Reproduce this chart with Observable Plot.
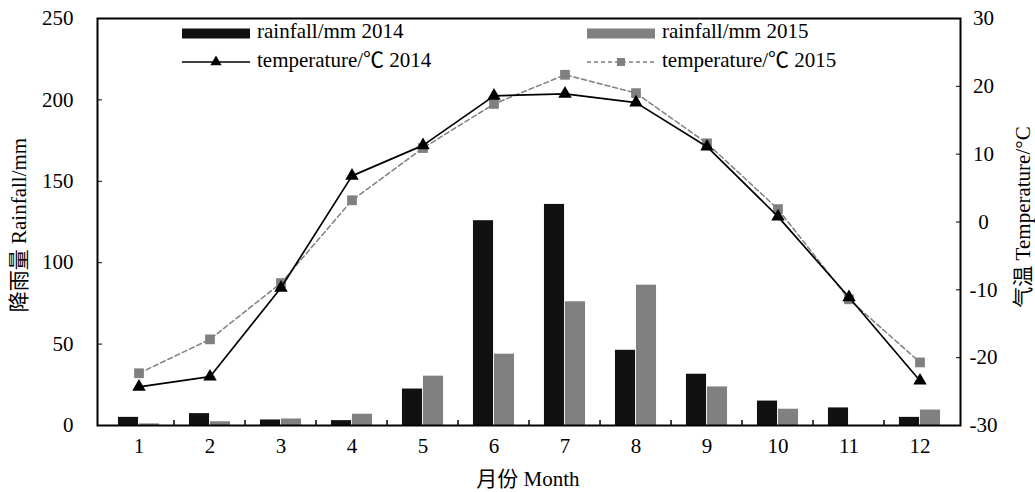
<!DOCTYPE html>
<html><head><meta charset="utf-8">
<script src="https://cdn.jsdelivr.net/npm/d3@7"></script>
<script src="https://cdn.jsdelivr.net/npm/@observablehq/plot@0.6"></script>
<style>
body{margin:0;background:#fff;}
#chart{width:1035px;height:492px;}
</style></head><body><div id="chart"></div>
<script>
const months = [1,2,3,4,5,6,7,8,9,10,11,12];
const rain2014 = [5,7.3,3.4,3,22.4,125.8,135.8,46.2,31.5,15,10.8,5];
const rain2015 = [1,2.3,4,6.9,30.3,43.8,76,86.2,23.7,10,0,9.5];
const temp2014 = [-24.3,-22.8,-9.7,6.8,11.3,18.6,18.9,17.6,11.1,0.8,-11.1,-23.4];
const temp2015 = [-22.3,-17.3,-9.0,3.2,10.9,17.4,21.7,19.0,11.6,1.9,-11.4,-20.7];
const rainTicks = [0,50,100,150,200,250];
const tempTicks = [-30,-20,-10,0,10,20,30];
const rainDomain = [0,250];
const tempDomain = [-30,30];
const legendLabels = ["rainfall/mm 2014","rainfall/mm 2015","temperature/\u2103 2014","temperature/\u2103 2015"];
const yLabelLeft = "降雨量 Rainfall/mm";
const yLabelRight = "气温 Temperature/°C";
const xLabel = "月份 Month";

const t2y = t => (t - tempDomain[0]) / (tempDomain[1] - tempDomain[0]) * (rainDomain[1]-rainDomain[0]) + rainDomain[0];
const y2t = y => (y - rainDomain[0]) / (rainDomain[1]-rainDomain[0]) * (tempDomain[1]-tempDomain[0]) + tempDomain[0];

const rows = months.map((m,i)=>({month:m, r14:rain2014[i], r15:rain2015[i], t14:temp2014[i], t15:temp2015[i]}));

const W=1035, H=492, ml=97, mr=75, mt=18, mb=67;
const bw = (W-ml-mr)/months.length;
const barW = 21;
const FS = 21;
const FONT = "'Liberation Serif','Times New Roman','Noto Sans CJK SC',serif";
const BLACK = "#111111", GRAY = "#808080";

const chart = Plot.plot({
  width:W, height:H, marginLeft:ml, marginRight:mr, marginTop:mt, marginBottom:mb,
  style:{fontFamily:FONT, fontSize:FS+"px", color:"#000", background:"#fff", overflow:"visible"},
  x:{type:"band", domain:months, padding:0},
  y:{domain:rainDomain},
  marks:[
    Plot.barY(rows,{x:"month", y:"r14", fill:BLACK, insetLeft: bw/2-barW, insetRight: bw/2}),
    Plot.barY(rows,{x:"month", y:"r15", fill:GRAY, insetLeft: bw/2, insetRight: bw/2-barW}),
    Plot.line(rows,{x:"month", y:d=>t2y(d.t15), stroke:GRAY, strokeWidth:1.5, strokeDasharray:"5,3"}),
    Plot.dot(rows,{x:"month", y:d=>t2y(d.t15), symbol:"square", fill:GRAY, r:5.5}),
    Plot.line(rows,{x:"month", y:d=>t2y(d.t14), stroke:"#000", strokeWidth:1.7}),
    Plot.dot(rows,{x:"month", y:d=>t2y(d.t14), symbol:"triangle", fill:"#000", r:5}),
    Plot.axisY({anchor:"left", ticks: rainTicks, tickSize:-5, tickPadding:29, label:null, fontSize:FS}),
    Plot.axisY({anchor:"right", ticks: tempTicks.map(t2y), tickFormat: d=>String(Math.round(y2t(d))), tickSize:-5, tickPadding:28, textAnchor:"middle", label:null, fontSize:FS}),
    Plot.axisX({ticks: months, tickSize:0, tickPadding:13, label:null, fontSize:FS}),
    Plot.axisX({ticks: months.slice(1), tickSize:-5, dx:-bw/2, tickFormat:()=>"", label:null, strokeWidth:1.5}),
    Plot.frame({stroke:"#000", strokeWidth:2})
  ]
});
document.getElementById("chart").appendChild(chart);

// axis titles and in-plot legend
const svg = d3.select(chart);
const g = svg.append("g").attr("font-family", FONT).attr("fill","#000").attr("font-size",FS+"px").attr("text-anchor","start");
g.append("text").attr("transform","translate(21,225) rotate(-90)").attr("text-anchor","middle").attr("dominant-baseline","middle").text(yLabelLeft);
g.append("text").attr("transform","translate(1025,217) rotate(-90)").attr("text-anchor","middle").attr("dominant-baseline","middle").text(yLabelRight);
g.append("text").attr("x",528).attr("y",481).attr("text-anchor","middle").attr("dominant-baseline","middle").text(xLabel);

const leg = g.append("g");
const cols = [182, 587];
const rowsY = [33.5, 62];
const swW = 68;
// rainfall swatches
leg.append("rect").attr("x",cols[0]).attr("y",rowsY[0]-5).attr("width",swW).attr("height",10).attr("fill",BLACK);
leg.append("rect").attr("x",cols[1]).attr("y",rowsY[0]-5).attr("width",swW).attr("height",10).attr("fill",GRAY);
// temperature line swatches
leg.append("line").attr("x1",cols[0]).attr("x2",cols[0]+swW).attr("y1",rowsY[1]).attr("y2",rowsY[1]).attr("stroke","#000").attr("stroke-width",1.7);
leg.append("path").attr("d",d3.symbol(d3.symbolTriangle, 55)()).attr("transform",`translate(${cols[0]+swW/2},${rowsY[1]})`).attr("fill","#000");
leg.append("line").attr("x1",cols[1]).attr("x2",cols[1]+swW).attr("y1",rowsY[1]).attr("y2",rowsY[1]).attr("stroke",GRAY).attr("stroke-width",1.5).attr("stroke-dasharray","4,3");
leg.append("rect").attr("x",cols[1]+swW/2-4).attr("y",rowsY[1]-4).attr("width",8).attr("height",8).attr("fill",GRAY);
const lx = [cols[0]+swW+7, cols[1]+swW+7, cols[0]+swW+7, cols[1]+swW+7];
const ly = [rowsY[0], rowsY[0], rowsY[1], rowsY[1]];
legendLabels.forEach((t,i)=>{
  leg.append("text").attr("x",lx[i]).attr("y",ly[i]).attr("text-anchor","start").attr("dominant-baseline","middle").text(t);
});
</script></body></html>
